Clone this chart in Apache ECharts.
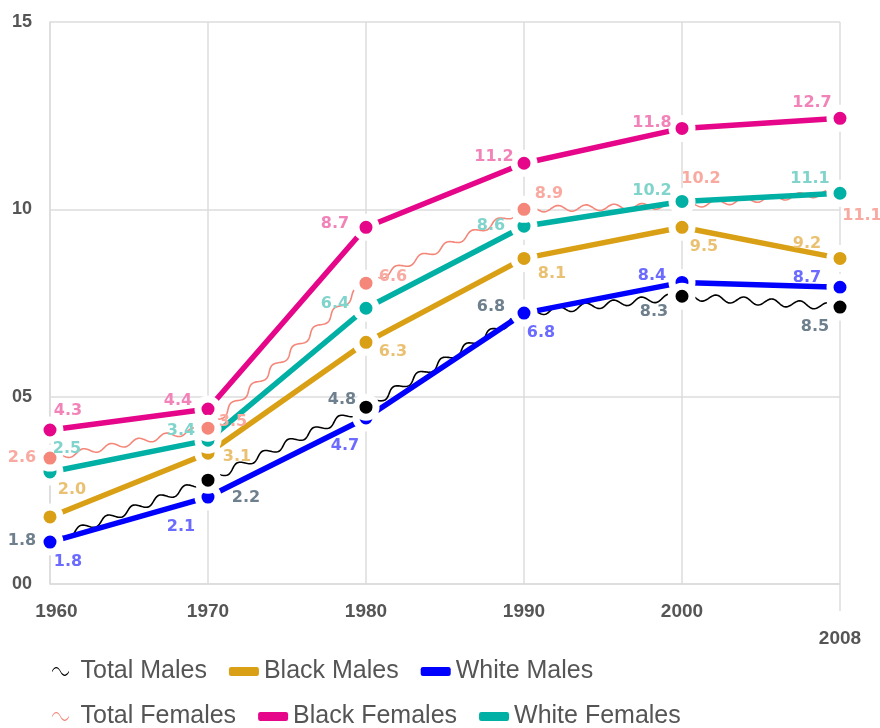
<!DOCTYPE html>
<html>
<head>
<meta charset="utf-8">
<script src="https://cdn.jsdelivr.net/npm/echarts@6/dist/echarts.min.js"></script>
<style>
  html, body { margin: 0; background: #fff; }
  #chart { width: 880px; height: 728px; }
</style>
</head>
<body>
<div id="chart"></div>
<script>
// categories
const years = ['1960', '1970', '1980', '1990', '2000', '2008']

// where each point sits in the picture (y axis units)
const totalMales = [1.15, 2.77, 4.72, 7.23, 7.68, 7.39]
const blackMales = [1.79, 3.49, 6.45, 8.69, 9.52, 8.69]
const whiteMales = [1.12, 2.32, 4.43, 7.23, 8.05, 7.92]
const totalFemales = [3.36, 4.16, 8.03, 10.0, 10.1, 10.45]
const blackFemales = [4.11, 4.67, 9.52, 11.23, 12.16, 12.43]
const whiteFemales = [2.99, 3.84, 7.36, 9.55, 10.21, 10.43]

// values printed beside the points
const totalMalesText = ['1.8', '2.2', '4.8', '6.8', '8.3', '8.5']
const blackMalesText = ['2.0', '3.1', '6.3', '8.1', '9.5', '9.2']
const whiteMalesText = ['1.8', '2.1', '4.7', '6.8', '8.4', '8.7']
const totalFemalesText = ['2.6', '3.5', '6.6', '8.9', '10.2', '11.1']
const blackFemalesText = ['4.3', '4.4', '8.7', '11.2', '11.8', '12.7']
const whiteFemalesText = ['2.5', '3.4', '6.4', '8.6', '10.2', '11.1']

// y ticks
const yMin = 0
const yMax = 15
const yStep = 5

// look of each series (colours, label offsets)
const looks = {
  'Black Females': { color: '#e6068a', label: '#f283b9', off: [[18, -19], [-30, -8], [-31, -3], [-30, -6], [-30, -6], [-28, -15]] },
  'Black Males': { color: '#daa015', label: '#eac172', off: [[22, -27], [29, 4], [27, 10], [28, 15], [22, 20], [-33, -15]] },
  'White Females': { color: '#00b0a4', label: '#80d4cc', off: [[17, -23], [-27, -9], [-31, -4], [-33, 0], [-30, -11], [-30, -14]] },
  'White Males': { color: '#0000ff', label: '#6b6bff', off: [[18, 20], [-27, 30], [-21, 28], [17, 20], [-30, -7], [-33, -9]] },
  'Total Females': { color: '#f4877a', label: '#f9aaa0', off: [[-28, 0], [25, -6], [27, -6], [25, -15], [19, -27], [22, 23]], hide: [4, 5] },
  'Total Males': { color: '#000000', label: '#6e7f8d', off: [[-28, 0], [38, 18], [-24, -7], [-33, -6], [-28, 16], [-25, 20]], hide: [0, 3] }
}

const chartDom = document.getElementById('chart')
const myChart = echarts.init(chartDom)

// 折线 + 圆点
const lineSeries = (name, values, texts, wavy) => {
  const look = looks[name]
  return {
    name,
    type: 'line',
    data: values.map((v, i) => {
      const item = { value: v, label: { offset: look.off[i] } }
      if (look.hide && look.hide.includes(i)) {
        item.itemStyle = { color: 'transparent', borderColor: 'transparent' }
      }
      return item
    }),
    symbol: 'circle',
    symbolSize: 20,
    itemStyle: { color: look.color, borderColor: '#fff', borderWidth: 7 },
    lineStyle: wavy ? { width: 0, opacity: 0 } : { color: look.color, width: 5.5 },
    label: {
      show: true,
      position: 'inside',
      formatter: (p) => texts[p.dataIndex],
      color: look.label,
      fontFamily: 'DejaVu Sans',
      fontWeight: 'bold',
      fontSize: 16
    },
    emphasis: { disabled: true },
    animation: false
  }
}

// 波浪线 (custom series, drawn from the axis scales)
const waveSeries = (name, values, amp, len) => {
  const color = looks[name].color
  return {
    name,
    type: 'custom',
    silent: true,
    data: values.map((v, i) => [i, v]),
    encode: { x: 0, y: 1 },
    renderItem: (params, api) => {
      const i = params.dataIndex
      if (i === 0) return null
      const a = api.coord([i - 1, values[i - 1]])
      const b = api.coord([i, values[i]])
      const dx = b[0] - a[0]
      const dy = b[1] - a[1]
      const L = Math.hypot(dx, dy)
      const ux = dx / L
      const uy = dy / L
      const trim = 13
      const pts = []
      for (let s = trim; s <= L - trim; s += 1) {
        const w = amp * Math.sin(((s - trim) / len) * Math.PI * 2)
        pts.push([a[0] + ux * s - uy * w, a[1] + uy * s + ux * w])
      }
      return {
        type: 'polyline',
        shape: { points: pts },
        style: { stroke: color, lineWidth: 1.6, fill: null }
      }
    },
    animation: false
  }
}

const wavePath = 'path://M0,6 C3,0 7,0 10,6 C13,12 17,12 20,6 L20,7.6 C17,13.6 13,13.6 10,7.6 C7,1.6 3,1.6 0,7.6 Z'

const legendItem = (name, wavy) => wavy
  ? { name, icon: wavePath, itemStyle: { color: looks[name].color, borderWidth: 0 } }
  : { name, icon: 'roundRect', itemStyle: { color: looks[name].color, borderWidth: 0 } }

const legendBase = {
  left: 52,
  orient: 'horizontal',
  itemWidth: 30,
  itemHeight: 9,
  itemGap: 22,
  padding: 0,
  selectedMode: false,
  textStyle: { fontFamily: 'Liberation Sans', fontSize: 25, color: '#555' }
}

const axisFont = { fontFamily: 'Liberation Sans', fontWeight: 'bold', fontSize: 19, color: '#555' }

const options = {
  animation: false,
  grid: { left: 50, right: 40, top: 22, bottom: 144 },
  legend: [
    Object.assign({}, legendBase, {
      top: 659,
      data: [legendItem('Total Males', true), legendItem('Black Males'), legendItem('White Males')]
    }),
    Object.assign({}, legendBase, {
      top: 704,
      data: [legendItem('Total Females', true), legendItem('Black Females'), legendItem('White Females')]
    })
  ],
  xAxis: {
    type: 'category',
    data: years,
    boundaryGap: false,
    axisLine: { lineStyle: { color: '#dcdcdc', width: 1.5 } },
    axisTick: {
      show: true,
      interval: (i) => i === years.length - 1,
      length: 27,
      lineStyle: { color: '#dcdcdc', width: 1.5 }
    },
    splitLine: { show: true, lineStyle: { color: '#dcdcdc', width: 1.5 } },
    axisLabel: Object.assign({}, axisFont, {
      margin: 18,
      interval: 0,
      formatter: (v, i) => i === 0 ? '{first|' + v + '}' : (i === years.length - 1 ? '{last|' + v + '}' : v),
      rich: {
        first: Object.assign({}, axisFont, { padding: [0, 0, 0, 13] }),
        last: Object.assign({}, axisFont, { padding: [27, 0, 0, 0] })
      }
    })
  },
  yAxis: {
    type: 'value',
    min: yMin,
    max: yMax,
    interval: yStep,
    axisLine: { show: true, lineStyle: { color: '#dcdcdc', width: 1.5 } },
    splitLine: { lineStyle: { color: '#dcdcdc', width: 1.5 } },
    axisLabel: Object.assign({}, axisFont, {
      fontSize: 18,
      margin: 18,
      formatter: (v) => String(v).padStart(2, '0')
    })
  },
  series: [
    lineSeries('Black Females', blackFemales, blackFemalesText),
    lineSeries('Black Males', blackMales, blackMalesText),
    lineSeries('White Females', whiteFemales, whiteFemalesText),
    lineSeries('White Males', whiteMales, whiteMalesText),
    lineSeries('Total Females', totalFemales, totalFemalesText, true),
    lineSeries('Total Males', totalMales, totalMalesText, true),
    waveSeries('Total Females', totalFemales, 3, 28),
    waveSeries('Total Males', totalMales, 3.5, 28)
  ]
}

myChart.setOption(options)
window.addEventListener('resize', () => myChart.resize())
</script>
</body>
</html>
